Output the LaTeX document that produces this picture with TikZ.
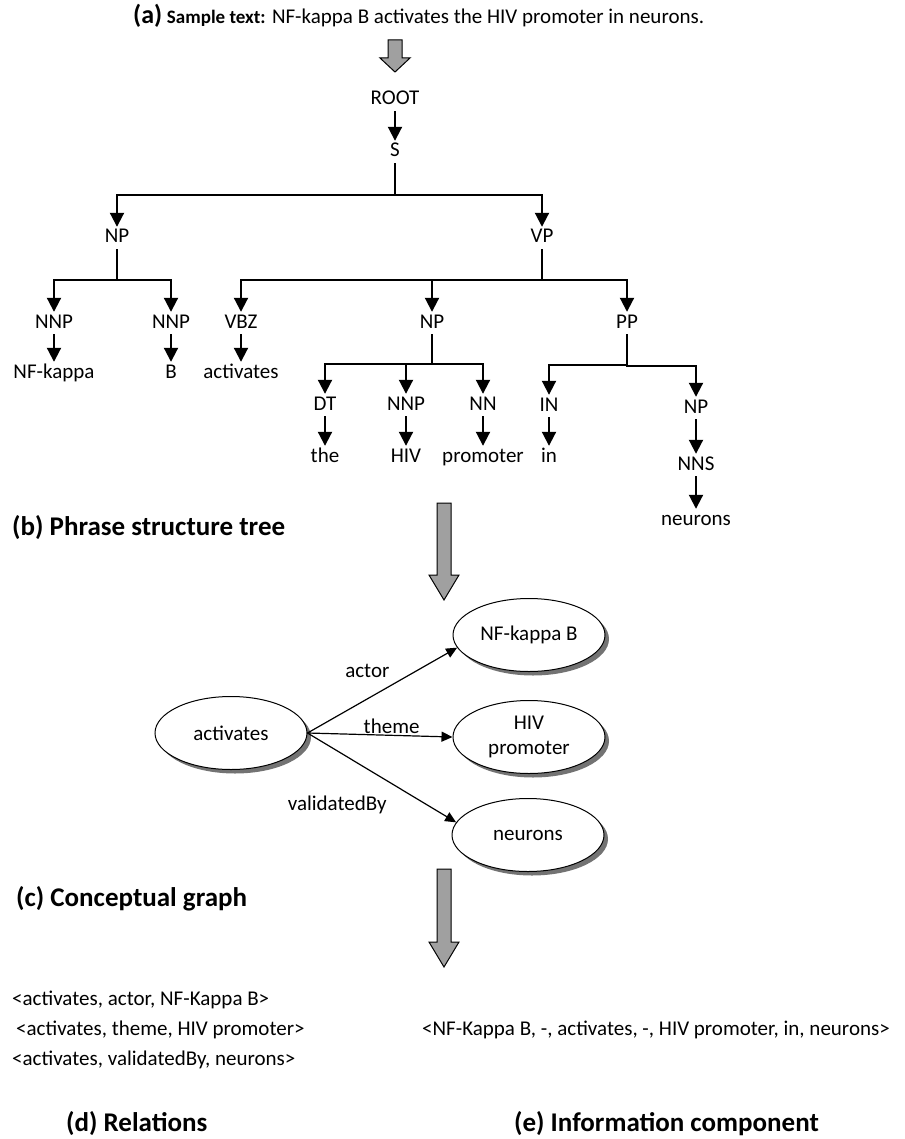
\documentclass[tikz,border=0pt]{standalone}
\usepackage{fontspec}
\setmainfont{Carlito}
\usetikzlibrary{positioning,calc,arrows.meta,shapes.geometric,shadows}
\definecolor{blockgray}{RGB}{160,160,160}

\tikzset{
  tag/.style={inner sep=2pt,text height=14pt,text depth=4pt},
  tree/.style={line width=2pt,-{Triangle[length=14pt,width=14pt]}},
  branch/.style={to path={(\tikztostart.south) |- ($(\tikztostart.south)!.5!(\tikztotarget.north)$) -| (\tikztotarget.north)}},
  concept/.style={ellipse,draw=black,line width=1pt,fill=white,minimum width=152pt,minimum height=73pt,align=center,
    drop shadow={shadow xshift=4pt,shadow yshift=-4pt,fill=black!55,opacity=1}},
  rel/.style={line width=1.2pt,-{Triangle[length=11pt,width=10pt]}},
  rellabel/.style={inner sep=1pt},
  plain/.style={anchor=west,inner sep=0pt},
  caption/.style={anchor=west,inner sep=0pt,font=\fontsize{27pt}{31pt}\selectfont\bfseries},
  pics/downarrow/.style 2 args={code={
    \draw[fill=blockgray,line width=1pt] (-7,0) -- (7,0) -- (7,#1-#2) -- (15,#1-#2) -- (0,#1) -- (-15,#1-#2) -- (-7,#1-#2) -- cycle;}}
}

\begin{document}
\begin{tikzpicture}[x=1pt,y=-1pt,font=\fontsize{21pt}{25pt}\selectfont]
	\useasboundingbox (0,0) rectangle (904,1139);
	
	\node[plain] (sample) at (133,16) {{\fontsize{26pt}{29pt}\selectfont\bfseries (a)} {\fontsize{19pt}{22pt}\selectfont\bfseries Sample text:} NF-kappa B activates the HIV promoter in neurons.};
	\pic at (395,40) {downarrow={32}{14}};
	
	% phrase structure tree
	\node[tag] (root) at (395,100) {ROOT};
	\node[tag] (s) at (395,152) {S};
	\node[tag] (np1) at (117,238) {NP};
	\node[tag] (vp) at (542,238) {VP};
	\node[tag] (nnp1) at (54,323) {NNP};
	\node[tag] (nnp2) at (171,323) {NNP};
	\node[tag] (vbz) at (241,323) {VBZ};
	\node[tag] (np2) at (432,323) {NP};
	\node[tag] (pp) at (627,323) {PP};
	\node[tag] (nfkappa) at (54,373) {NF-kappa};
	\node[tag] (b) at (171,373) {B};
	\node[tag] (activates) at (241,373) {activates};
	\node[tag] (dt) at (325,405) {DT};
	\node[tag] (nnp3) at (406,405) {NNP};
	\node[tag] (nn) at (483,405) {NN};
	\node[tag] (in) at (549,406) {IN};
	\node[tag] (np3) at (696,408) {NP};
	\node[tag] (the) at (325,457) {the};
	\node[tag] (hiv) at (406,457) {HIV};
	\node[tag] (promoter) at (483,457) {promoter};
	\node[tag] (inword) at (549,457) {in};
	\node[tag] (nns) at (696,465) {NNS};
	\node[tag] (neuronsword) at (696,520) {neurons};
	
	\draw[tree] (root) -- (s);
	\draw[tree] (s) to[branch] (np1);
	\draw[tree] (s) to[branch] (vp);
	\draw[tree] (np1) to[branch] (nnp1);
	\draw[tree] (np1) to[branch] (nnp2);
	\draw[tree] (vp) to[branch] (vbz);
	\draw[tree] (vp) to[branch] (np2);
	\draw[tree] (vp) to[branch] (pp);
	\draw[tree] (np2) to[branch] (dt);
	\draw[tree] (np2) to[branch] (nnp3);
	\draw[tree] (np2) to[branch] (nn);
	\draw[tree] (pp) to[branch] (in);
	\draw[tree] (pp) to[branch] (np3);
	\draw[tree] (nnp1) -- (nfkappa);
	\draw[tree] (nnp2) -- (b);
	\draw[tree] (vbz) -- (activates);
	\draw[tree] (dt) -- (the);
	\draw[tree] (nnp3) -- (hiv);
	\draw[tree] (nn) -- (promoter);
	\draw[tree] (in) -- (inword);
	\draw[tree] (np3) -- (nns);
	\draw[tree] (nns) -- (neuronsword);
	
	\node[caption] (capb) at (12,528) {(b) Phrase structure tree};
	\pic at (444,503) {downarrow={97}{25}};
	
	% conceptual graph
	\node[concept] (act) at (231,733) {activates};
	\node[concept] (nfk) at (529,635) {NF-kappa B};
	\node[concept] (hivp) at (529,737) {HIV\\promoter};
	\node[concept] (neur) at (528,835) {neurons};
	
	\draw[rel] (act.east) -- node[rellabel,pos=.4,above=20pt] {actor} (nfk.190);
	\draw[rel] (act.east) -- node[rellabel,pos=.58,above] {theme} (hivp.west);
	\draw[rel] (act.east) -- node[rellabel,pos=.2,below=43pt] {validatedBy} (neur.170);
	
	\node[caption] (capc) at (16,899) {(c) Conceptual graph};
	\pic at (444,869) {downarrow={98}{25}};
	
	% relations and component
	\node[plain] (rel1) at (12,1000) {<activates, actor, NF-Kappa B>};
	\node[plain] (rel2) at (16,1030) {<activates, theme, HIV promoter>};
	\node[plain] (rel3) at (12,1060) {<activates, validatedBy, neurons>};
	\node[plain] (comp) at (422,1030) {<NF-Kappa B, -, activates, -, HIV promoter, in, neurons>};
	
	\node[caption] (capd) at (66,1124) {(d) Relations};
	\node[caption] (cape) at (514,1124) {(e) Information component};
\end{tikzpicture}
\end{document}
